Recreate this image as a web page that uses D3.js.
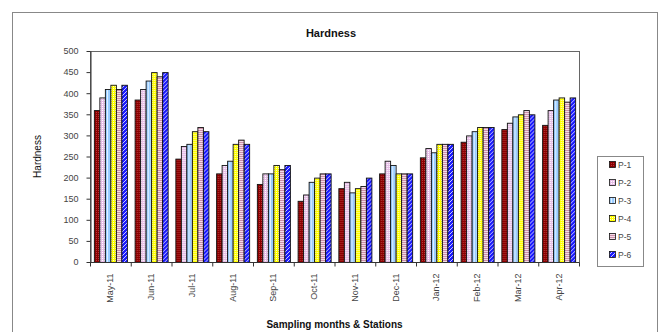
<!DOCTYPE html>
<html>
<head>
<meta charset="utf-8">
<script src="https://cdn.jsdelivr.net/npm/d3@7/dist/d3.min.js"></script>
<style>
  html, body { margin: 0; padding: 0; background: #fff; }
  svg { display: block; font-family: "Liberation Sans", Arial, sans-serif; }
</style>
</head>
<body>
<svg id="chart" width="661" height="332"></svg>
<script>
// Monthly hardness readings at six sampling stations
const months = ["May-11", "Jun-11", "Jul-11", "Aug-11", "Sep-11", "Oct-11",
                "Nov-11", "Dec-11", "Jan-12", "Feb-12", "Mar-12", "Apr-12"];
const stations = ["P-1", "P-2", "P-3", "P-4", "P-5", "P-6"];
const p1 = [360, 385, 245, 210, 185, 145, 175, 210, 248, 285, 315, 325];
const p2 = [390, 410, 275, 230, 210, 160, 190, 240, 270, 300, 330, 360];
const p3 = [410, 430, 280, 240, 210, 190, 165, 230, 260, 310, 345, 385];
const p4 = [420, 450, 310, 280, 230, 200, 175, 210, 280, 320, 350, 390];
const p5 = [410, 440, 320, 290, 220, 210, 180, 210, 280, 320, 360, 380];
const p6 = [420, 450, 310, 280, 230, 210, 200, 210, 280, 320, 350, 390];
const yTicks = [0, 50, 100, 150, 200, 250, 300, 350, 400, 450, 500];

const seriesValues = [p1, p2, p3, p4, p5, p6];

const svg = d3.select("#chart");
const plot = { left: 90, right: 579, top: 51, bottom: 262 };

// Fill patterns for each station
const defs = svg.append("defs");
function pattern(id, w, h, bg, draw) {
  const p = defs.append("pattern")
    .attr("id", id).attr("patternUnits", "userSpaceOnUse")
    .attr("width", w).attr("height", h);
  p.append("rect").attr("width", w).attr("height", h).attr("fill", bg);
  draw(p);
}
pattern("pat0", 2, 2, "#8b0000", p => {
  p.append("rect").attr("x", 0).attr("y", 0).attr("width", 1).attr("height", 1).attr("fill", "#b23a3a");
});
pattern("pat1", 2, 2, "#e6bde6", p => {
  p.append("rect").attr("x", 0).attr("y", 0).attr("width", 1).attr("height", 1).attr("fill", "#ffffff");
});
pattern("pat2", 3, 3, "#99ccff", p => {
  p.append("rect").attr("x", 2).attr("y", 0).attr("width", 1).attr("height", 3).attr("fill", "#dff0ff");
});
pattern("pat3", 2, 2, "#ffff00", p => {
  p.append("rect").attr("x", 1).attr("y", 0).attr("width", 1).attr("height", 1).attr("fill", "#ffffcc");
});
pattern("pat4", 2, 2, "#cc8fa8", p => {
  p.append("rect").attr("x", 0).attr("y", 1).attr("width", 2).attr("height", 1).attr("fill", "#f3dde8");
});
pattern("pat5", 4, 4, "#1a1aff", p => {
  p.append("path").attr("d", "M0,4 L4,0 M-1,1 L1,-1 M3,5 L5,3")
    .attr("stroke", "#c8c8ff").attr("stroke-width", 1);
});

// Outer chart frame
svg.append("rect")
  .attr("x", 12.5).attr("y", 12.5).attr("width", 645).attr("height", 330)
  .attr("fill", "none").attr("stroke", "#888").attr("stroke-width", 1);

// Scales
const x0 = d3.scaleBand().domain(months).range([plot.left, plot.right]).padding(0);
const x1 = d3.scaleBand().domain(stations).range([0, x0.bandwidth()])
  .paddingInner(0).paddingOuter(0.7);
const y = d3.scaleLinear().domain([0, 500]).range([plot.bottom, plot.top]);

// Plot area border
svg.append("rect")
  .attr("x", plot.left + 0.5).attr("y", plot.top + 0.5)
  .attr("width", plot.right - plot.left).attr("height", plot.bottom - plot.top)
  .attr("fill", "none").attr("stroke", "#666").attr("stroke-width", 1);

// Bars
const groups = svg.append("g").selectAll("g")
  .data(months)
  .join("g")
  .attr("transform", d => `translate(${x0(d)},0)`);

groups.selectAll("rect")
  .data((m, i) => stations.map((s, k) => ({ s, k, v: seriesValues[k][i] })))
  .join("rect")
  .attr("x", d => x1(d.s) + 0.5)
  .attr("y", d => y(d.v) + 0.5)
  .attr("width", x1.bandwidth())
  .attr("height", d => y(0) - y(d.v))
  .attr("fill", d => `url(#pat${d.k})`)
  .attr("stroke", "#111")
  .attr("stroke-width", 0.9);

// Y axis
const yAxis = svg.append("g")
  .attr("transform", `translate(${plot.left + 0.5},0)`)
  .call(d3.axisLeft(y).tickValues(yTicks).tickSize(4).tickPadding(8).tickSizeOuter(0));
yAxis.select(".domain").attr("stroke", "#333");
yAxis.selectAll(".tick line").attr("stroke", "#333");
yAxis.selectAll(".tick text")
  .attr("font-size", 9).attr("fill", "#444")
  .attr("font-family", "Liberation Sans, Arial, sans-serif");

// X axis with ticks at category boundaries
const xAxis = svg.append("g")
  .attr("transform", `translate(0,${plot.bottom + 0.5})`);
xAxis.append("line")
  .attr("x1", plot.left).attr("x2", plot.right)
  .attr("stroke", "#333");
xAxis.selectAll("line.tk")
  .data(months.concat(["end"]))
  .join("line")
  .attr("class", "tk")
  .attr("x1", (d, i) => (i < months.length ? x0(d) : plot.right) + 0.5)
  .attr("x2", (d, i) => (i < months.length ? x0(d) : plot.right) + 0.5)
  .attr("y1", 0).attr("y2", 4)
  .attr("stroke", "#333");
xAxis.selectAll("text")
  .data(months)
  .join("text")
  .attr("transform", d => `translate(${x0(d) + x0.bandwidth() / 2 + 3},11) rotate(-90)`)
  .attr("text-anchor", "end")
  .attr("font-size", 9)
  .attr("fill", "#444")
  .text(d => d);

// Titles
svg.append("text")
  .attr("x", 331).attr("y", 37)
  .attr("text-anchor", "middle")
  .attr("font-size", 11).attr("font-weight", "bold").attr("fill", "#111")
  .text("Hardness");
svg.append("text")
  .attr("transform", `translate(41,${(plot.top + plot.bottom) / 2}) rotate(-90)`)
  .attr("text-anchor", "middle")
  .attr("font-size", 10).attr("fill", "#111")
  .text("Hardness");
svg.append("text")
  .attr("x", (plot.left + plot.right) / 2).attr("y", 328)
  .attr("text-anchor", "middle")
  .attr("font-size", 10).attr("font-weight", "bold").attr("fill", "#111")
  .text("Sampling months & Stations");

// Legend
const legend = svg.append("g");
legend.append("rect")
  .attr("x", 597.5).attr("y", 156.5).attr("width", 46).attr("height", 110)
  .attr("fill", "#fff").attr("stroke", "#888");
const li = legend.selectAll("g.item")
  .data(stations)
  .join("g")
  .attr("class", "item")
  .attr("transform", (d, i) => `translate(609,${165 + i * 18})`);
li.append("rect")
  .attr("x", 0.5).attr("y", -3.5).attr("width", 6).attr("height", 6)
  .attr("fill", (d, i) => `url(#pat${i})`)
  .attr("stroke", "#111").attr("stroke-width", 0.8);
li.append("text")
  .attr("x", 9).attr("y", 3)
  .attr("font-size", 8.5).attr("fill", "#444")
  .text(d => d);
</script>
</body>
</html>
